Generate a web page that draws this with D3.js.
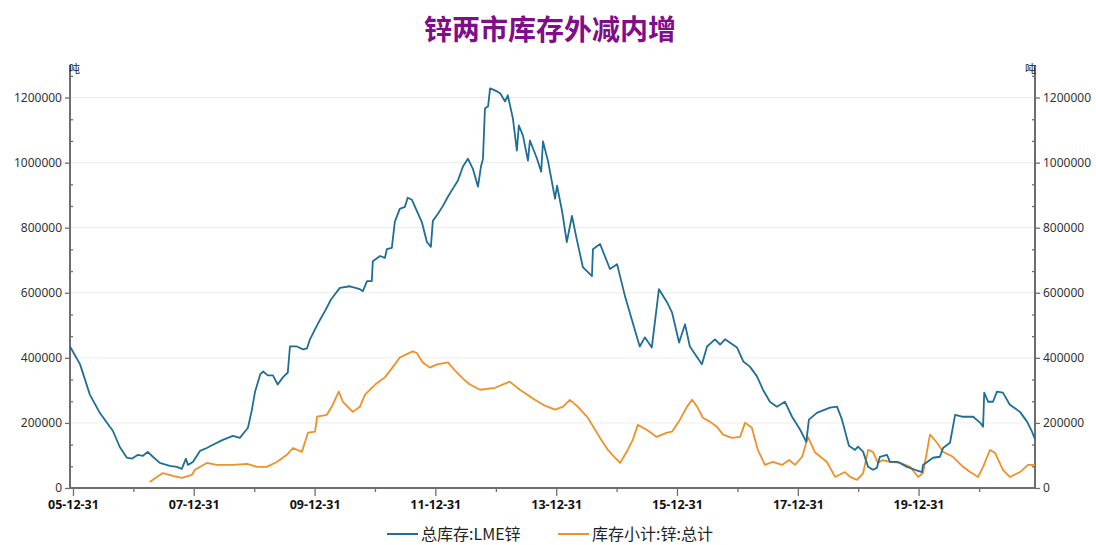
<!DOCTYPE html>
<html><head><meta charset="utf-8">
<script src="https://cdn.jsdelivr.net/npm/d3@7/dist/d3.min.js"></script>
<style>
html,body{margin:0;padding:0;background:#fff;}
text{font-family:"Noto Sans CJK SC","Noto Sans",sans-serif;}
</style></head>
<body><svg id="c" width="1096" height="545"></svg>
<script>
const title = "锌两市库存外减内增";
const unitLabel = "吨";
const seriesNames = ["总库存:LME锌", "库存小计:锌:总计"];
const yTicks = [0, 200000, 400000, 600000, 800000, 1000000, 1200000];
const xTickDates = ["2005-12-31","2007-12-31","2009-12-31","2011-12-31","2013-12-31","2015-12-31","2017-12-31","2019-12-31"];
const xMinorDates = ["2006-12-31","2008-12-31","2010-12-31","2012-12-31","2014-12-31","2016-12-31","2018-12-31","2020-12-31"];
const xDomain = ["2005-12-13","2021-12-04"];

const lmeDates = ["2005-12-13","2006-02-12","2006-04-12","2006-06-11","2006-08-11","2006-08-29","2006-10-10","2006-11-22","2006-12-22","2007-01-28","2007-02-27","2007-03-28","2007-04-28","2007-06-09","2007-08-08","2007-09-20","2007-10-20","2007-11-14","2007-11-26","2007-12-26","2008-02-07","2008-03-19","2008-04-25","2008-06-24","2008-08-24","2008-10-05","2008-11-23","2008-12-17","2009-01-05","2009-02-05","2009-02-23","2009-03-23","2009-04-23","2009-05-22","2009-06-22","2009-07-22","2009-08-04","2009-09-15","2009-10-22","2009-11-15","2009-12-03","2010-01-03","2010-02-03","2010-03-05","2010-04-10","2010-04-25","2010-06-02","2010-08-01","2010-10-01","2010-10-19","2010-11-13","2010-12-12","2010-12-18","2011-01-31","2011-03-01","2011-03-13","2011-04-12","2011-04-30","2011-05-30","2011-06-30","2011-07-17","2011-08-11","2011-09-10","2011-10-10","2011-11-10","2011-12-04","2011-12-16","2012-01-16","2012-02-15","2012-03-16","2012-04-15","2012-05-15","2012-06-15","2012-07-15","2012-08-14","2012-09-14","2012-10-02","2012-10-14","2012-10-26","2012-11-14","2012-11-26","2012-12-26","2013-01-26","2013-02-25","2013-03-13","2013-04-13","2013-05-07","2013-05-19","2013-06-13","2013-07-13","2013-07-25","2013-09-06","2013-10-01","2013-10-12","2013-11-12","2013-12-24","2014-01-05","2014-02-05","2014-03-05","2014-04-05","2014-05-04","2014-06-10","2014-08-04","2014-08-10","2014-09-22","2014-11-21","2015-01-03","2015-02-20","2015-04-02","2015-05-20","2015-06-20","2015-08-01","2015-09-13","2015-11-01","2015-12-01","2016-01-13","2016-02-18","2016-03-18","2016-05-30","2016-06-30","2016-08-17","2016-09-17","2016-10-17","2016-12-28","2017-02-04","2017-03-16","2017-04-28","2017-06-03","2017-07-15","2017-08-26","2017-10-14","2017-11-26","2018-01-14","2018-02-20","2018-03-08","2018-04-25","2018-07-13","2018-08-25","2018-09-24","2018-11-05","2018-12-12","2018-12-30","2019-01-30","2019-03-01","2019-03-30","2019-04-23","2019-05-11","2019-06-23","2019-07-11","2019-08-29","2019-10-22","2019-12-10","2020-01-21","2020-01-27","2020-03-27","2020-05-08","2020-05-27","2020-07-08","2020-08-08","2020-09-19","2020-11-25","2021-01-06","2021-01-24","2021-01-31","2021-02-24","2021-03-25","2021-04-18","2021-05-24","2021-07-05","2021-09-04","2021-10-17","2021-11-16","2021-12-04"];
const lmeValues = [435000,380000,287000,231000,188000,176000,126000,93000,90000,102000,99000,111000,96000,77000,68000,65000,59000,90000,71000,80000,114000,123000,133000,148000,160000,154000,185000,241000,296000,349000,358000,346000,346000,318000,340000,355000,435000,435000,426000,429000,457000,488000,518000,545000,580000,590000,615000,620000,611000,605000,636000,636000,697000,713000,707000,734000,738000,818000,858000,864000,892000,886000,852000,818000,756000,741000,821000,843000,867000,895000,920000,944000,988000,1012000,981000,926000,988000,1012000,1166000,1173000,1228000,1222000,1213000,1188000,1207000,1136000,1037000,1114000,1083000,1006000,1068000,1012000,972000,1065000,1003000,889000,929000,849000,756000,836000,765000,679000,651000,734000,750000,673000,688000,589000,518000,435000,463000,432000,611000,571000,540000,447000,503000,435000,380000,435000,457000,441000,457000,432000,389000,373000,343000,302000,265000,250000,265000,219000,179000,142000,210000,231000,247000,250000,210000,130000,117000,127000,111000,65000,56000,62000,96000,102000,80000,80000,65000,56000,49000,71000,93000,96000,123000,139000,225000,219000,219000,201000,188000,293000,265000,265000,296000,293000,256000,234000,204000,173000,150000];

const shfeDates = ["2007-04-09","2007-06-27","2007-08-27","2007-10-20","2007-12-20","2008-01-07","2008-03-19","2008-05-19","2008-08-24","2008-11-17","2009-01-17","2009-03-17","2009-05-16","2009-07-16","2009-08-22","2009-10-15","2009-11-21","2010-01-03","2010-01-15","2010-03-15","2010-04-20","2010-05-26","2010-06-20","2010-08-19","2010-10-01","2010-11-01","2011-01-01","2011-03-01","2011-04-30","2011-05-30","2011-07-30","2011-08-17","2011-09-10","2011-10-16","2011-11-28","2012-01-10","2012-03-16","2012-05-09","2012-06-15","2012-07-27","2012-09-26","2012-12-26","2013-03-25","2013-05-25","2013-08-24","2013-10-24","2013-12-24","2014-02-11","2014-03-23","2014-05-10","2014-07-10","2014-09-22","2014-11-09","2014-12-21","2015-01-21","2015-03-08","2015-04-08","2015-05-08","2015-07-01","2015-08-31","2015-11-01","2015-12-01","2016-01-18","2016-03-01","2016-04-01","2016-05-01","2016-06-05","2016-07-17","2016-08-29","2016-10-05","2016-11-28","2017-01-16","2017-02-15","2017-03-28","2017-05-03","2017-06-15","2017-08-02","2017-09-26","2017-11-08","2017-12-14","2018-01-26","2018-03-02","2018-04-13","2018-06-25","2018-08-13","2018-10-12","2018-11-12","2018-12-24","2019-01-30","2019-03-01","2019-03-30","2019-04-29","2019-05-29","2019-07-11","2019-09-10","2019-11-10","2019-12-28","2020-01-27","2020-03-09","2020-04-21","2020-05-27","2020-07-26","2020-09-25","2020-11-07","2020-12-25","2021-01-24","2021-03-07","2021-04-06","2021-05-24","2021-07-05","2021-09-04","2021-10-23","2021-12-04"];
const shfeValues = [18500,46000,37000,31000,40000,56000,77000,71000,71000,74000,65000,65000,80000,102000,123000,111000,170000,173000,219000,225000,256000,296000,265000,234000,250000,287000,318000,340000,380000,401000,416000,420000,415000,386000,370000,380000,386000,355000,336000,318000,302000,308000,327000,302000,271000,253000,241000,250000,271000,250000,216000,154000,117000,93000,77000,117000,148000,194000,179000,157000,170000,173000,210000,250000,271000,250000,216000,204000,188000,164000,154000,157000,201000,185000,117000,71000,80000,71000,86000,71000,96000,157000,110000,80000,34000,49000,34000,25000,46000,117000,111000,77000,86000,80000,77000,65000,34000,46000,164000,139000,111000,96000,65000,49000,34000,65000,117000,108000,56000,34000,49000,71000,71000];

const colors = ["#1f6e96", "#f0902a"];

const parse = d3.timeParse("%Y-%m-%d");
const svg = d3.select("#c");
const L = 70, R = 1035, T = 65, B = 488;
const x = d3.scaleTime().domain(xDomain.map(parse)).range([L, R]);
const y = d3.scaleLinear().domain([0, 1300000]).range([B, T]);

// gridlines
svg.append("g").selectAll("line").data(yTicks.slice(1)).join("line")
  .attr("x1", L).attr("x2", R).attr("y1", d => y(d)).attr("y2", d => y(d))
  .attr("stroke", "#ececec").attr("stroke-width", 1);

const minorY = d3.range(0, 1300000, 200000/3).filter(v => !yTicks.some(t => Math.abs(t - v) < 1));
const axisColor = "#6e6e6e";
const fmtY = d3.format("d");

const gl = svg.append("g").attr("transform", `translate(${L},0)`)
  .call(d3.axisLeft(y).tickValues(yTicks).tickFormat(fmtY).tickSize(5).tickPadding(3));
const gr = svg.append("g").attr("transform", `translate(${R},0)`)
  .call(d3.axisRight(y).tickValues(yTicks).tickFormat(fmtY).tickSize(5).tickPadding(3));
const gb = svg.append("g").attr("transform", `translate(0,${B})`)
  .call(d3.axisBottom(x).tickValues(xTickDates.map(parse)).tickFormat(d3.timeFormat("%y-%m-%d")).tickSize(8).tickPadding(4));
const gbm = svg.append("g").attr("transform", `translate(0,${B})`)
  .call(d3.axisBottom(x).tickValues(xMinorDates.map(parse)).tickFormat("").tickSize(4));
const glm = svg.append("g").attr("transform", `translate(${L},0)`)
  .call(d3.axisRight(y).tickValues(minorY).tickFormat("").tickSize(3));
const grm = svg.append("g").attr("transform", `translate(${R},0)`)
  .call(d3.axisLeft(y).tickValues(minorY).tickFormat("").tickSize(3));

[gl, gr, gb, gbm, glm, grm].forEach(g => {
  g.select(".domain").attr("stroke", axisColor).attr("stroke-width", 2);
  g.selectAll(".tick line").attr("stroke", axisColor).attr("stroke-width", 1.3);
  g.selectAll("text").attr("fill", "#333").style("font-size", "12px")
    .style("font-family", "'Noto Sans','Open Sans',sans-serif");
});
[gbm, glm, grm].forEach(g => g.select(".domain").remove());
gl.select(".domain").attr("d", `M0,${T}V${B}`);
gr.select(".domain").attr("d", `M0,${T}V${B}`);
gb.select(".domain").attr("d", `M${L},0H${R}`);
gb.selectAll("text").attr("fill", "#111").style("font-weight", "bold").style("font-size", "12.5px");

// unit labels
svg.append("text").attr("x", L - 1).attr("y", 73).text(unitLabel)
  .style("font-size", "11px").attr("fill", "#222");
svg.append("text").attr("x", R + 1).attr("y", 73).attr("text-anchor", "end").text(unitLabel)
  .style("font-size", "11px").attr("fill", "#222");

// lines
const line = d3.line().x(d => x(d[0])).y(d => y(d[1]));
const lmeData = lmeDates.map((d, i) => [parse(d), lmeValues[i]]);
const shfeData = shfeDates.map((d, i) => [parse(d), shfeValues[i]]);
svg.append("path").datum(shfeData).attr("d", line).attr("fill", "none")
  .attr("stroke", colors[1]).attr("stroke-width", 1.8).attr("stroke-linejoin", "round");
svg.append("path").datum(lmeData).attr("d", line).attr("fill", "none")
  .attr("stroke", colors[0]).attr("stroke-width", 1.8).attr("stroke-linejoin", "round");

// title
svg.append("text").attr("x", 550).attr("y", 40).attr("text-anchor", "middle")
  .text(title).attr("fill", "#800d8a").style("font-size", "28px").style("font-weight", "bold");

// legend
const legendX = [387, 558];
seriesNames.forEach((n, i) => {
  const g = svg.append("g").attr("transform", `translate(${legendX[i]},534)`);
  g.append("line").attr("x1", 0).attr("x2", 31).attr("y1", 0).attr("y2", 0)
    .attr("stroke", colors[i]).attr("stroke-width", 2);
  g.append("text").attr("x", 34).attr("y", 6).text(n)
    .style("font-size", "16px").attr("fill", "#222");
});
</script></body></html>
